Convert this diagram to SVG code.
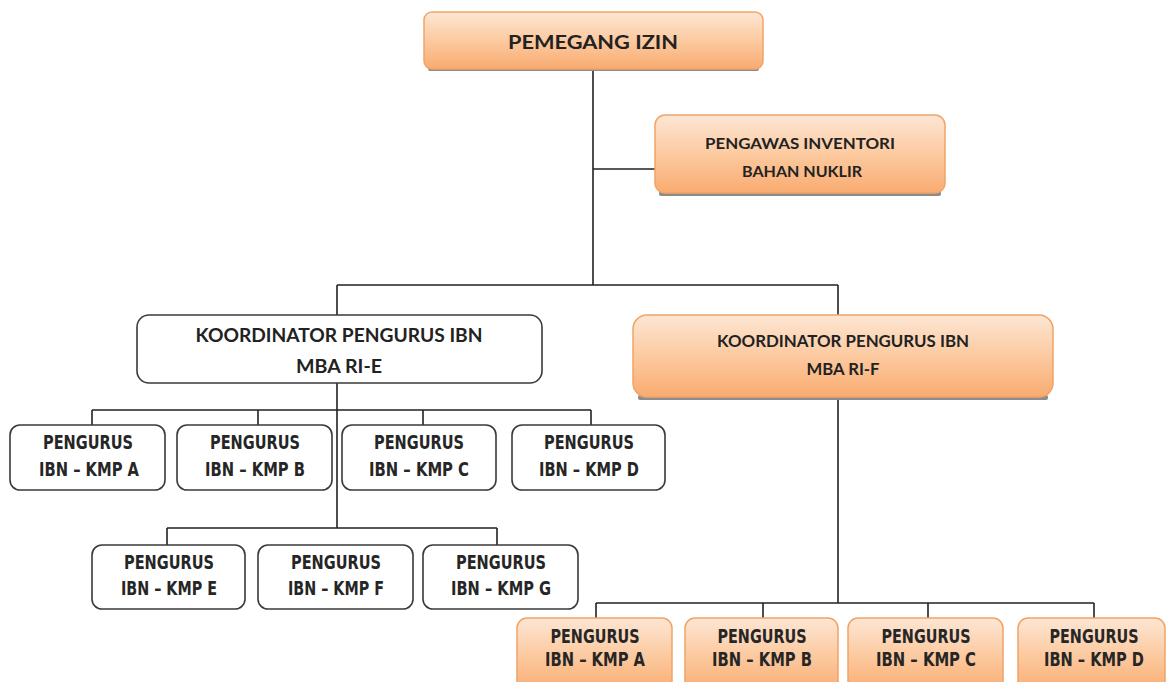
<svg xmlns="http://www.w3.org/2000/svg" width="1167" height="682" viewBox="0 0 1167 682">
<defs>
<linearGradient id="og" x1="0" y1="0" x2="0" y2="1">
<stop offset="0" stop-color="#fde6d4"/>
<stop offset="0.5" stop-color="#fccaa0"/>
<stop offset="1" stop-color="#f9ab70"/>
</linearGradient>
<style>
.o{fill:url(#og);stroke:#f0a468;stroke-width:1.5}
.w{fill:#fff;stroke:#3a3a3a;stroke-width:1.6}
.sh{fill:#8c8c8c}
.c{fill:none;stroke:#222;stroke-width:1.6}
.t{font-family:Lato,"Liberation Sans",sans-serif;font-weight:bold;fill:#222;text-anchor:middle}
.n{font-family:"Liberation Sans Narrow","DejaVu Sans Condensed","Liberation Sans",sans-serif;font-size:20px;font-weight:bold;fill:#262626;text-anchor:middle}
</style>
</defs>
<rect width="1167" height="682" fill="#fff"/>
<g id="connectors">
<path class="c" d="M593,70V285M593,169H655M337,285H838M337,285V315M838,285V315"/>
<path class="c" d="M337,383V528M92,410H591M92,410V425M258,410V425M423,410V425M591,410V425"/>
<path class="c" d="M167,528H497M167,528V545M497,528V545"/>
<path class="c" d="M838,397V603M596,603H1094M596,603V618M763,603V618M928,603V618M1094,603V618"/>
</g>
<g id="pemegang">
<rect class="sh" x="428" y="67" width="331" height="4" rx="2"/>
<rect class="o" x="424" y="12" width="339" height="57" rx="8"/>
<text class="t" x="593" y="49" font-size="19" textLength="170" lengthAdjust="spacingAndGlyphs">PEMEGANG IZIN</text>
</g>
<g id="pengawas">
<rect class="sh" x="659" y="191" width="282" height="5" rx="2"/>
<rect class="o" x="655" y="115" width="290" height="78" rx="10"/>
<text class="t" x="800" y="149" font-size="15.5" textLength="190" lengthAdjust="spacingAndGlyphs">PENGAWAS INVENTORI</text>
<text class="t" x="802" y="177" font-size="15.5" textLength="120" lengthAdjust="spacingAndGlyphs">BAHAN NUKLIR</text>
</g>
<g id="koord-e">
<rect class="w" x="137" y="315" width="405" height="68" rx="12"/>
<text class="t" x="339" y="342" font-size="19" textLength="287" lengthAdjust="spacingAndGlyphs">KOORDINATOR PENGURUS IBN</text>
<text class="t" x="339" y="373" font-size="19" textLength="86" lengthAdjust="spacingAndGlyphs">MBA RI-E</text>
</g>
<g id="koord-f">
<rect class="sh" x="638" y="395" width="410" height="5" rx="2"/>
<rect class="o" x="633" y="315" width="420" height="82" rx="14"/>
<text class="t" x="843" y="347" font-size="17" textLength="252" lengthAdjust="spacingAndGlyphs">KOORDINATOR PENGURUS IBN</text>
<text class="t" x="843" y="375" font-size="17" textLength="73" lengthAdjust="spacingAndGlyphs">MBA RI-F</text>
</g>
<g id="e-kmp-a">
<rect class="w" x="10" y="425" width="155" height="65" rx="10"/>
<text class="n" x="88" y="449" textLength="90" lengthAdjust="spacingAndGlyphs">PENGURUS</text>
<text class="n" x="89" y="476" textLength="100" lengthAdjust="spacingAndGlyphs">IBN – KMP A</text>
</g>
<g id="e-kmp-b">
<rect class="w" x="177" y="425" width="155" height="65" rx="10"/>
<text class="n" x="255" y="449" textLength="90" lengthAdjust="spacingAndGlyphs">PENGURUS</text>
<text class="n" x="255" y="476" textLength="100" lengthAdjust="spacingAndGlyphs">IBN – KMP B</text>
</g>
<g id="e-kmp-c">
<rect class="w" x="342" y="425" width="154" height="65" rx="10"/>
<text class="n" x="419" y="449" textLength="90" lengthAdjust="spacingAndGlyphs">PENGURUS</text>
<text class="n" x="419" y="476" textLength="100" lengthAdjust="spacingAndGlyphs">IBN – KMP C</text>
</g>
<g id="e-kmp-d">
<rect class="w" x="512" y="425" width="153" height="65" rx="10"/>
<text class="n" x="589" y="449" textLength="90" lengthAdjust="spacingAndGlyphs">PENGURUS</text>
<text class="n" x="589" y="476" textLength="100" lengthAdjust="spacingAndGlyphs">IBN – KMP D</text>
</g>
<g id="e-kmp-e">
<rect class="w" x="92" y="545" width="153" height="64" rx="10"/>
<text class="n" x="169" y="569" textLength="90" lengthAdjust="spacingAndGlyphs">PENGURUS</text>
<text class="n" x="169" y="595" textLength="96" lengthAdjust="spacingAndGlyphs">IBN – KMP E</text>
</g>
<g id="e-kmp-f">
<rect class="w" x="258" y="545" width="155" height="64" rx="10"/>
<text class="n" x="336" y="569" textLength="90" lengthAdjust="spacingAndGlyphs">PENGURUS</text>
<text class="n" x="336" y="595" textLength="96" lengthAdjust="spacingAndGlyphs">IBN – KMP F</text>
</g>
<g id="e-kmp-g">
<rect class="w" x="423" y="545" width="155" height="64" rx="10"/>
<text class="n" x="501" y="569" textLength="90" lengthAdjust="spacingAndGlyphs">PENGURUS</text>
<text class="n" x="501" y="595" textLength="100" lengthAdjust="spacingAndGlyphs">IBN – KMP G</text>
</g>
<g id="f-kmp-a">
<rect class="o" x="517" y="618" width="155" height="75" rx="10"/>
<text class="n" x="595" y="643" textLength="89" lengthAdjust="spacingAndGlyphs">PENGURUS</text>
<text class="n" x="595" y="666" textLength="100" lengthAdjust="spacingAndGlyphs">IBN – KMP A</text>
</g>
<g id="f-kmp-b">
<rect class="o" x="685" y="618" width="153" height="75" rx="10"/>
<text class="n" x="762" y="643" textLength="89" lengthAdjust="spacingAndGlyphs">PENGURUS</text>
<text class="n" x="762" y="666" textLength="100" lengthAdjust="spacingAndGlyphs">IBN – KMP B</text>
</g>
<g id="f-kmp-c">
<rect class="o" x="848" y="618" width="155" height="75" rx="10"/>
<text class="n" x="926" y="643" textLength="89" lengthAdjust="spacingAndGlyphs">PENGURUS</text>
<text class="n" x="926" y="666" textLength="100" lengthAdjust="spacingAndGlyphs">IBN – KMP C</text>
</g>
<g id="f-kmp-d">
<rect class="o" x="1018" y="618" width="147" height="75" rx="10"/>
<text class="n" x="1094" y="643" textLength="89" lengthAdjust="spacingAndGlyphs">PENGURUS</text>
<text class="n" x="1094" y="666" textLength="100" lengthAdjust="spacingAndGlyphs">IBN – KMP D</text>
</g>
</svg>
